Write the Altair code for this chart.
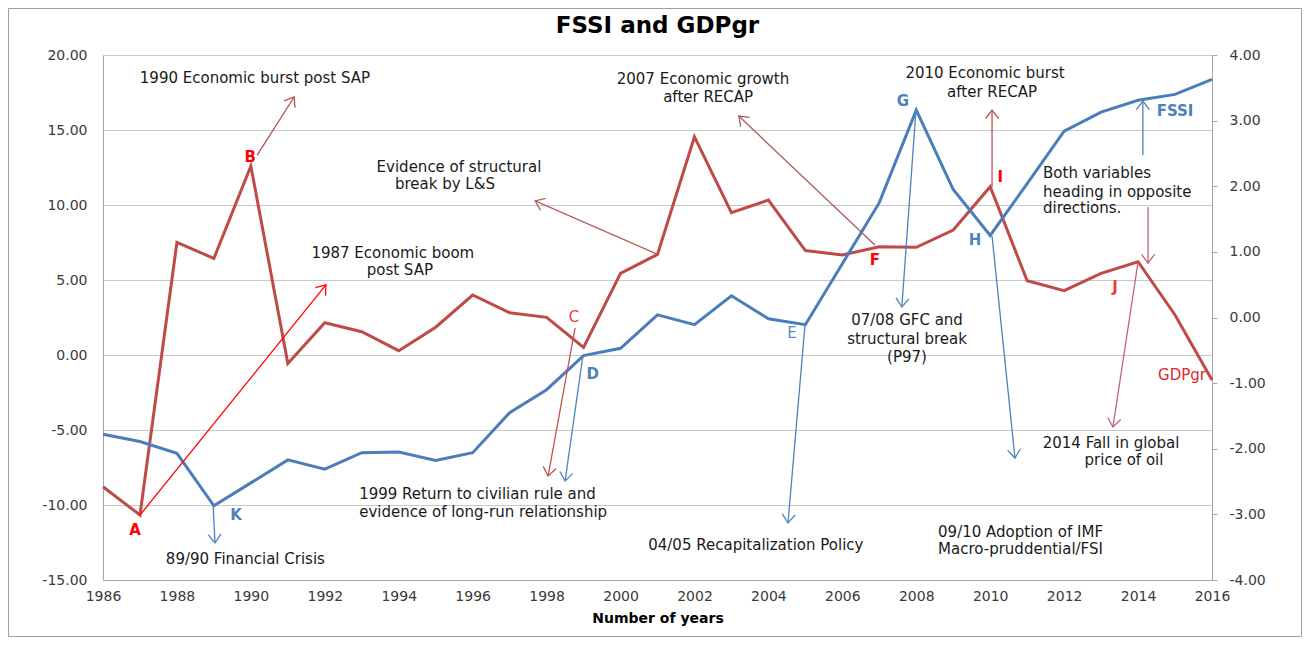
import math
import altair as alt
import pandas as pd

# ---------------- data ----------------
years = list(range(1986, 2017))
gdpgr = [-8.78, -10.67, 7.51, 6.44, 12.6, -0.56, 2.15, 1.55, 0.29, 1.85, 4.0, 2.82, 2.51, 0.51,
         5.44, 6.71, 14.55, 9.49, 10.33, 6.96, 6.67, 7.22, 7.18, 8.33, 11.22, 4.95, 4.29, 5.44,
         6.22, 2.67, -1.67]
fssi = [-1.78, -1.89, -2.07, -2.87, -2.52, -2.17, -2.31, -2.06, -2.05, -2.18, -2.06, -1.45, -1.10,
        -0.58, -0.47, 0.04, -0.11, 0.33, -0.02, -0.11, 0.82, 1.75, 3.16, 1.95, 1.25, 2.04, 2.84,
        3.13, 3.31, 3.40, 3.63]

left_ticks = [-15, -10, -5, 0, 5, 10, 15, 20]
right_ticks = [-4, -3, -2, -1, 0, 1, 2, 3, 4]
year_ticks = list(range(1986, 2017, 2))

title_text = "FSSI and GDPgr"

# annotation texts (centred), positions in (year, left-axis units)
ctext = ["1990 Economic burst post SAP", "1987 Economic boom", "post SAP",
         "Evidence of structural", "break by L&S", "2007 Economic growth", "after RECAP",
         "2010 Economic burst", "after RECAP", "07/08 GFC and", "structural break", "(P97)",
         "04/05 Recapitalization  Policy", "2014 Fall in  global", "price of oil"]
ctext_x = [1990.11, 1993.84, 1994.03, 1995.63, 1995.25, 2002.23, 2002.37, 2009.86, 2010.05,
           2007.75, 2007.75, 2007.75, 2003.66, 2013.27, 2013.62]
ctext_y = [18.47, 6.8, 5.67, 12.51, 11.38, 18.38, 17.22, 18.78, 17.55, 2.33, 1.07, -0.11,
           -12.67, -5.85, -7.0]

# annotation texts (left aligned)
ltext = ["1999 Return to civilian rule  and", "evidence of long-run relationship",
         "89/90 Financial Crisis", "09/10 Adoption of IMF", "Macro-pruddential/FSI",
         "Both variables", "heading in opposite", "directions."]
ltext_x = [1992.93, 1992.93, 1987.70, 2008.59, 2008.59, 2011.43, 2011.43, 2011.43]
ltext_y = [-9.27, -10.45, -13.6, -11.78, -12.95, 12.11, 10.89, 9.78]

# point letters and series labels
labels = ["A", "B", "C", "D", "E", "F", "G", "H", "I", "J", "K", "FSSI", "GDPgr"]
label_x = [1986.87, 1989.98, 1998.74, 1999.25, 2004.64, 2006.88, 2007.64, 2009.59, 2010.27,
           2013.38, 1989.6, 2015.0, 2015.19]
label_y = [-11.67, 13.2, 2.53, -1.27, 1.47, 6.33, 16.93, 7.67, 11.89, 4.53, -10.67, 16.27, -1.33]
label_col = ["#ff0000", "#ff0000", "#e8403c", "#4f81bd", "#5a8ac6", "#ff0000", "#4f81bd",
             "#4f81bd", "#ff0000", "#e8403c", "#4f81bd", "#4f81bd", "#e02828"]
label_bold = [True, True, False, True, False, True, True, True, True, True, True, True, False]

# arrows: start -> head
arr_x1 = [1987.0, 1990.17, 2000.99, 1998.77, 1998.98, 1988.98, 2004.99, 2006.88, 2007.99,
          2010.05, 2010.05, 2014.13, 2014.27, 2014.0]
arr_y1 = [-10.67, 13.33, 6.73, 1.8, -0.07, -10.07, 2.0, 7.33, 16.27, 11.2, 7.93, 13.33, 9.87, 6.2]
arr_x2 = [1992.03, 1991.17, 1997.69, 1998.04, 1998.5, 1989.03, 2004.53, 2003.2, 2007.61,
          2010.05, 2010.67, 2014.13, 2014.27, 2013.32]
arr_y2 = [4.67, 17.2, 10.27, -8.07, -8.4, -12.53, -11.2, 15.93, 3.2, 16.33, -6.87, 16.93,
          6.13, -4.8]
arr_col = ["#ff0000", "#b5504e", "#b5605e", "#c0504d", "#4f81bd", "#4f81bd", "#4f81bd",
           "#a85a58", "#4f81bd", "#c0504d", "#4f81bd", "#4f81bd", "#c06070", "#c06070"]

# ---------------- layout ----------------
W, H = 1109, 525
X_DOM = [1986, 2016]
YL = [-15, 20]
YR = [-4, 4]
PXX = W / (X_DOM[1] - X_DOM[0])
PXY = H / (YL[1] - YL[0])
FONT = "DejaVu Sans"
NEG_LABEL = "(datum.value < 0 ? '-' : '') + format(abs(datum.value), '.2f')"

xs = alt.Scale(domain=X_DOM, nice=False, zero=False)
yls = alt.Scale(domain=YL, nice=False, zero=False)
yrs = alt.Scale(domain=YR, nice=False, zero=False)

x_axis = alt.Axis(values=year_ticks, format="d", grid=False, ticks=False, labelPadding=9,
                  labelFlush=False,
                  title="Number of years", titleFontWeight="bold", titleFontSize=14,
                  titleFont=FONT, titlePadding=8, titleColor="#000000")


def X(field):
    return alt.X(field, scale=xs, axis=x_axis, title="Number of years")


series = pd.DataFrame({"year": years, "gdp": gdpgr, "fssi": fssi})

red = alt.Chart(series).mark_line(color="#be4b48", strokeWidth=3).encode(
    x=X("year:Q"),
    y=alt.Y("gdp:Q", scale=yls,
            axis=alt.Axis(values=left_ticks, labelExpr=NEG_LABEL, grid=True, ticks=False,
                          labelPadding=16, labelFlush=False, title=None)),
)

blue = alt.Chart(series).mark_line(color="#4a7ebb", strokeWidth=3).encode(
    x=X("year:Q"),
    y=alt.Y("fssi:Q", scale=yrs,
            axis=alt.Axis(orient="right", values=right_ticks, labelExpr=NEG_LABEL, grid=False,
                          ticks=True, tickSize=5, tickColor="#a6a6a6", labelPadding=12,
                          labelFlush=False, title=None)),
)

arrows = pd.DataFrame({"x1": arr_x1, "y1": arr_y1, "x2": arr_x2, "y2": arr_y2, "col": arr_col})
arrows["ang"] = [
    math.degrees(math.atan2((b - a) * PXX, (d - c) * PXY)) % 360
    for a, b, c, d in zip(arr_x1, arr_x2, arr_y1, arr_y2)
]

shafts = alt.Chart(arrows).mark_rule(strokeWidth=1.3).encode(
    x=X("x1:Q"), x2="x2:Q",
    y=alt.Y("y1:Q", scale=yls, axis=None), y2="y2:Q",
    color=alt.Color("col:N", scale=None),
)

heads = alt.Chart(arrows).mark_point(
    shape="M -0.75 1 L 0 0 L 0.75 1", filled=False, strokeWidth=1.3, size=300, opacity=1
).encode(
    x=X("x2:Q"),
    y=alt.Y("y2:Q", scale=yls, axis=None),
    angle=alt.Angle("ang:Q", scale=None),
    color=alt.Color("col:N", scale=None),
)

cdf = pd.DataFrame({"t": ctext, "x": ctext_x, "y": ctext_y})
ctexts = alt.Chart(cdf).mark_text(font=FONT, fontSize=15, color="#1a1a1a", align="center",
                                  baseline="middle").encode(
    x=X("x:Q"), y=alt.Y("y:Q", scale=yls, axis=None), text="t:N")

ldf = pd.DataFrame({"t": ltext, "x": ltext_x, "y": ltext_y})
ltexts = alt.Chart(ldf).mark_text(font=FONT, fontSize=15, color="#1a1a1a", align="left",
                                  baseline="middle").encode(
    x=X("x:Q"), y=alt.Y("y:Q", scale=yls, axis=None), text="t:N")

labdf = pd.DataFrame({"t": labels, "x": label_x, "y": label_y, "col": label_col,
                      "bold": label_bold})
lab_bold = alt.Chart(labdf).transform_filter("datum.bold").mark_text(
    font=FONT, fontSize=15, fontWeight="bold", baseline="middle").encode(
    x=X("x:Q"), y=alt.Y("y:Q", scale=yls, axis=None), text="t:N",
    color=alt.Color("col:N", scale=None))
lab_norm = alt.Chart(labdf).transform_filter("!datum.bold").mark_text(
    font=FONT, fontSize=15, baseline="middle").encode(
    x=X("x:Q"), y=alt.Y("y:Q", scale=yls, axis=None), text="t:N",
    color=alt.Color("col:N", scale=None))

frame = alt.Chart(pd.DataFrame({"a": [0]})).mark_rect(
    fill=None, stroke="#a0a0a0", strokeWidth=1).encode(
    x=alt.value(-94.5), x2=alt.value(1198.5), y=alt.value(-46.5), y2=alt.value(581.5))

title = alt.Chart(pd.DataFrame({"t": [title_text]})).mark_text(
    font=FONT, fontSize=23, fontWeight="bold", color="#000000", align="center",
    baseline="middle").encode(
    x=alt.value(W / 2), y=alt.value(-29), text="t:N")

chart = alt.layer(
    frame, title, red, blue, shafts, heads, ctexts, ltexts, lab_bold, lab_norm
).resolve_scale(y="independent").properties(
    width=W, height=H,
    background="#ffffff",
    autosize=alt.AutoSizeParams(type="none"),
    padding={"left": 95, "top": 47, "right": 91, "bottom": 58},
).configure_view(stroke=None).configure_axis(
    labelFont=FONT, labelFontSize=14, labelColor="#3a3a3a", domainColor="#a6a6a6",
    gridColor="#c8c8c8", domainWidth=1, gridWidth=1,
)

chart.save("out.html", embed_options={"renderer": "svg", "actions": False})
